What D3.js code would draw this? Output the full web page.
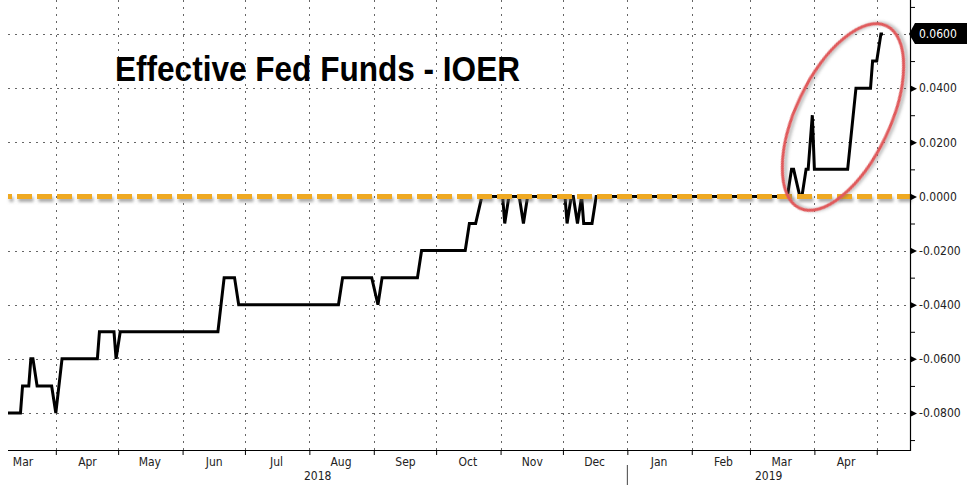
<!DOCTYPE html>
<html>
<head>
<meta charset="utf-8">
<script src="https://cdn.jsdelivr.net/npm/d3@7"></script>
<style>
  html, body { margin: 0; padding: 0; background: #fff; }
  svg { display: block; }
  .ax text { font-family: "DejaVu Sans Condensed", "DejaVu Sans", sans-serif; font-stretch: condensed; font-size: 12px; fill: #222; }
</style>
</head>
<body>
<svg id="chart" width="976" height="489"></svg>
<script>
// ---- data ----
const title = "Effective Fed Funds - IOER";
const dates = [
  "2018-03-09","2018-03-15","2018-03-16","2018-03-19","2018-03-20","2018-03-21","2018-03-23",
  "2018-03-30","2018-04-01","2018-04-04","2018-04-21","2018-04-22","2018-04-29","2018-04-30",
  "2018-05-02","2018-06-18","2018-06-21","2018-06-26","2018-06-28","2018-08-15","2018-08-17",
  "2018-08-31","2018-09-03","2018-09-05","2018-09-22","2018-09-24","2018-10-15","2018-10-17",
  "2018-10-20","2018-10-23","2018-11-02","2018-11-03","2018-11-05","2018-11-10","2018-11-12",
  "2018-11-14","2018-12-02","2018-12-03","2018-12-05","2018-12-06","2018-12-08","2018-12-10",
  "2018-12-11","2018-12-15","2018-12-17","2019-03-19","2019-03-21","2019-03-22","2019-03-25",
  "2019-03-26","2019-03-28","2019-03-29","2019-03-31","2019-04-01","2019-04-17","2019-04-21",
  "2019-04-28","2019-04-29","2019-05-01","2019-05-03","2019-05-04"
];
const values = [
  -0.08,-0.08,-0.07,-0.07,-0.06,-0.06,-0.07,
  -0.07,-0.08,-0.06,-0.06,-0.05,-0.05,-0.06,
  -0.05,-0.05,-0.03,-0.03,-0.04,-0.04,-0.03,
  -0.03,-0.04,-0.03,-0.03,-0.02,-0.02,-0.01,
  -0.01,0.00,0.00,-0.01,0.00,0.00,-0.01,
  0.00,0.00,-0.01,0.00,0.00,-0.01,0.00,
  -0.01,-0.01,0.00,0.00,0.01,0.01,0.00,
  0.00,0.01,0.01,0.03,0.01,0.01,0.04,
  0.04,0.05,0.05,0.06,0.06
];
const yMajorTicks = [0.06, 0.04, 0.02, 0.00, -0.02, -0.04, -0.06, -0.08];
const yMinorTicks = [0.07, 0.05, 0.03, 0.01, -0.01, -0.03, -0.05, -0.07, -0.09];
const lastLabel = "0.0600";
const refLevel = 0.0;
const years = ["2018", "2019"];

// ---- layout ----
const parse = d3.utcParse("%Y-%m-%d");
const svg = d3.select("#chart");
const L = 8, R = 910, T = 0, B = 450;

const x = d3.scaleUtc()
  .domain([parse("2018-03-09"), parse("2019-05-17")])
  .range([L, R]);
const y = d3.scaleLinear().domain([-0.08, 0.06]).range([413, 34]);

const defs = svg.append("defs");
const sh = defs.append("filter").attr("id", "shadow").attr("filterUnits", "userSpaceOnUse")
  .attr("x", 0).attr("y", 0).attr("width", 976).attr("height", 489);
sh.append("feDropShadow").attr("dx", 1.5).attr("dy", 3).attr("stdDeviation", 1.4)
  .attr("flood-color", "#666").attr("flood-opacity", 0.55);
const sh2 = defs.append("filter").attr("id", "shadow2").attr("filterUnits", "userSpaceOnUse")
  .attr("x", 0).attr("y", 0).attr("width", 976).attr("height", 489);
sh2.append("feDropShadow").attr("dx", 1.5).attr("dy", 2.5).attr("stdDeviation", 1.5)
  .attr("flood-color", "#555").attr("flood-opacity", 0.45);

// grid
const months = d3.utcMonth.range(d3.utcMonth.ceil(x.domain()[0]), x.domain()[1]);
svg.append("g").selectAll("line").data(months).join("line")
  .attr("x1", d => Math.round(x(d)) + 0.5).attr("x2", d => Math.round(x(d)) + 0.5).attr("y1", T).attr("y2", B)
  .attr("stroke", "#666").attr("stroke-width", 1).attr("stroke-dasharray", "2,5");
svg.append("g").selectAll("line").data(yMajorTicks.filter(d => d !== refLevel)).join("line")
  .attr("x1", L).attr("x2", R).attr("y1", d => Math.round(y(d)) + 0.5).attr("y2", d => Math.round(y(d)) + 0.5)
  .attr("stroke", "#666").attr("stroke-width", 1).attr("stroke-dasharray", "2,5");

// series line
const pts = dates.map((d, i) => [parse(d), values[i]]);
svg.append("path").datum(pts)
  .attr("d", d3.line().x(d => x(d[0])).y(d => y(d[1])))
  .attr("fill", "none").attr("stroke", "#000").attr("stroke-width", 3)
  .attr("stroke-linejoin", "miter").attr("stroke-miterlimit", 3);

// reference dashed line
svg.append("line")
  .attr("x1", L).attr("x2", R).attr("y1", y(refLevel)).attr("y2", y(refLevel))
  .attr("stroke", "#efa922").attr("stroke-width", 5)
  .attr("stroke-dasharray", "15,5").attr("stroke-dashoffset", 11)
  .attr("filter", "url(#shadow)");

// bottom axis
svg.append("line").attr("x1", L).attr("x2", R).attr("y1", B + 0.5).attr("y2", B + 0.5)
  .attr("stroke", "#000").attr("stroke-width", 1.2);
const gx = svg.append("g").attr("class", "ax").attr("transform", `translate(0,${B})`)
  .call(d3.axisBottom(x).tickValues(months).tickSize(5).tickFormat(""));
gx.select(".domain").remove();
const monthMids = d3.utcMonth.range(d3.utcMonth.floor(x.domain()[0]), x.domain()[1])
  .map(m => d3.utcDay.offset(m, 15)).filter(d => x(d) < R - 20);
const gx2 = svg.append("g").attr("class", "ax").attr("transform", `translate(0,${B})`)
  .call(d3.axisBottom(x).tickValues(monthMids).tickSize(0).tickPadding(7).tickFormat(d3.utcFormat("%b")));
gx2.select(".domain").remove();

// year labels
const yearStart = parse("2019-01-01");
const yearSpans = [[x.domain()[0], yearStart], [yearStart, x.domain()[1]]];
svg.append("g").attr("class", "ax").selectAll("text").data(years).join("text")
  .attr("x", (d, i) => (x(yearSpans[i][0]) + x(yearSpans[i][1])) / 2)
  .attr("y", 480).attr("text-anchor", "middle").text(d => d);
svg.append("line").attr("x1", x(yearStart)).attr("x2", x(yearStart)).attr("y1", 465).attr("y2", 485)
  .attr("stroke", "#444").attr("stroke-width", 1);

// right axis
svg.append("line").attr("x1", R + 0.5).attr("x2", R + 0.5).attr("y1", T).attr("y2", B + 1)
  .attr("stroke", "#000").attr("stroke-width", 1.2);
const gyMinor = svg.append("g").attr("class", "ax").attr("transform", `translate(${R},0)`)
  .call(d3.axisRight(y).tickValues(yMinorTicks).tickSize(5).tickFormat(""));
gyMinor.select(".domain").remove();
gyMinor.selectAll("line").attr("stroke", "#000");
const labelTicks = yMajorTicks.filter(d => d.toFixed(4) !== lastLabel);
const gy = svg.append("g").attr("class", "ax").attr("transform", `translate(${R},0)`)
  .call(d3.axisRight(y).tickValues(labelTicks).tickSize(0).tickPadding(9).tickFormat(d => d.toFixed(4)));
gy.select(".domain").remove();
gy.selectAll(".tick").append("path").attr("d", "M0,-3.5L7,0L0,3.5Z").attr("fill", "#000");

// last value flag
const yl = y(values[values.length - 1]);
svg.append("path")
  .attr("d", `M${R - 1},${yl}L${R + 5},${yl - 11}L${R + 57},${yl - 11}L${R + 57},${yl + 10}L${R + 5},${yl + 10}Z`)
  .attr("fill", "#000");
svg.append("text").attr("x", R + 9).attr("y", yl).attr("dy", "0.35em")
  .style("font-family", '"DejaVu Sans Condensed", "DejaVu Sans", sans-serif').style("font-stretch", "condensed")
  .style("font-size", "12px").attr("fill", "#fff").text(lastLabel);

// highlight ellipse
svg.append("ellipse").attr("cx", 843).attr("cy", 117).attr("rx", 101).attr("ry", 47)
  .attr("transform", "rotate(-64.5,843,117)")
  .attr("fill", "none").attr("stroke", "#e05a5c").attr("stroke-width", 3)
  .attr("filter", "url(#shadow2)");

// title
svg.append("text").attr("x", 115).attr("y", 81)
  .attr("textLength", 405).attr("lengthAdjust", "spacingAndGlyphs")
  .style("font-family", '"Liberation Sans", Arial, sans-serif').style("font-weight", "bold")
  .style("font-size", "35px").attr("fill", "#000").text(title);
</script>
</body>
</html>
